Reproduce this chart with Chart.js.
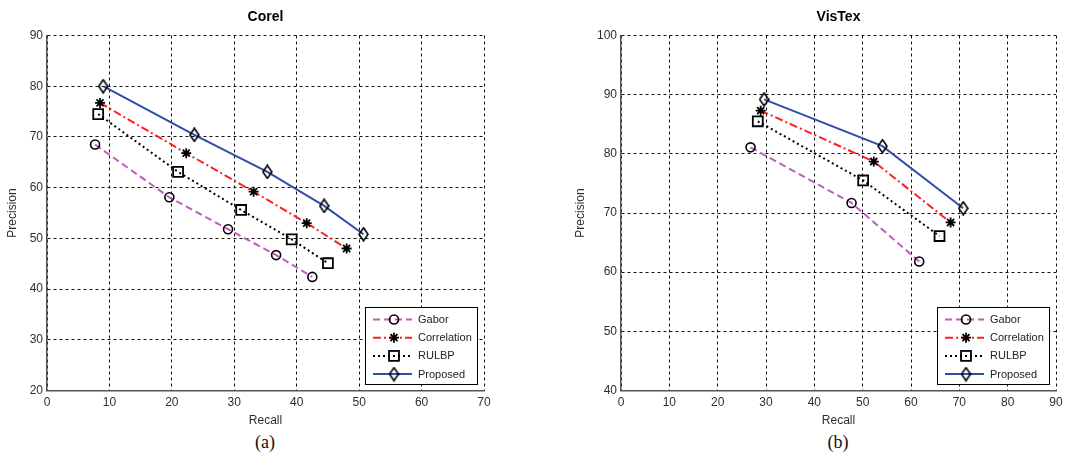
<!DOCTYPE html>
<html>
<head>
<meta charset="utf-8">
<script src="https://cdn.jsdelivr.net/npm/chart.js@4.4.1/dist/chart.umd.min.js"></script>
<style>
  html, body { margin: 0; padding: 0; background: #fff; overflow: hidden; }
  body { width: 1071px; height: 461px; position: relative; }
  .panel { position: absolute; top: 0; }
  .cap { position: absolute; top: 432px; width: 60px; text-align: center;
         font-family: "Liberation Serif", "DejaVu Serif", serif; font-size: 18px; color: #111; }
</style>
</head>
<body>
<div class="panel" style="left:0px"><canvas id="corelChart" width="531" height="430"></canvas></div>
<div class="panel" style="left:570px"><canvas id="vistexChart" width="501" height="430"></canvas></div>
<div class="cap" style="left:235px">(a)</div>
<div class="cap" style="left:808px">(b)</div>
<script>
// series names
const seriesNames = ['Gabor', 'Correlation', 'RULBP', 'Proposed'];

// Corel (recall, precision)
const corelGaborX = [7.7, 19.6, 29.0, 36.7, 42.5];
const corelGaborY = [68.5, 58.1, 51.8, 46.7, 42.4];
const corelCorrX = [8.5, 22.3, 33.1, 41.6, 48.0];
const corelCorrY = [76.7, 66.8, 59.2, 53.0, 48.0];
const corelRulbpX = [8.2, 21.0, 31.1, 39.2, 45.0];
const corelRulbpY = [74.5, 63.1, 55.6, 49.8, 45.1];
const corelPropX = [9.0, 23.6, 35.3, 44.4, 50.7];
const corelPropY = [80.0, 70.4, 63.1, 56.4, 50.8];

// VisTex (recall, precision)
const vistexGaborX = [26.8, 47.7, 61.7];
const vistexGaborY = [81.1, 71.7, 61.8];
const vistexCorrX = [28.9, 52.3, 68.2];
const vistexCorrY = [87.3, 78.7, 68.4];
const vistexRulbpX = [28.3, 50.1, 65.9];
const vistexRulbpY = [85.5, 75.5, 66.1];
const vistexPropX = [29.6, 54.1, 70.8];
const vistexPropY = [89.2, 81.3, 70.8];

// axis ranges
const corelXTicks = [0, 70];
const corelYTicks = [20, 90];
const vistexXTicks = [0, 90];
const vistexYTicks = [40, 100];

const FONT = '"Liberation Sans", Arial, sans-serif';

// narrow diamond marker like matlab 'd'
const diamond = document.createElement('canvas');
diamond.width = 11; diamond.height = 15;
(() => {
  const c = diamond.getContext('2d');
  c.strokeStyle = '#000';
  c.lineWidth = 1.6;
  c.beginPath();
  c.moveTo(5.5, 1); c.lineTo(10, 7.5); c.lineTo(5.5, 14); c.lineTo(1, 7.5); c.closePath();
  c.stroke();
})();

const styles = [
  {color: '#c25bc2', dash: [7, 4], width: 2, point: 'circle', radius: 4.5, pw: 1.6},
  {color: '#ff1f1f', dash: [8, 3, 2, 3], width: 2, point: 'star', radius: 5, pw: 1.8},
  {color: '#000000', dash: [2, 3], width: 2, point: 'rect', radius: 7, pw: 1.8},
  {color: '#2f4ea8', dash: [], width: 2, point: diamond, radius: 7, pw: 1.6}
];

function makeSets(xs, ys) {
  return xs.map((xArr, i) => ({
    label: seriesNames[i],
    data: xArr.map((x, j) => ({x: x, y: ys[i][j]})),
    showLine: true,
    borderColor: styles[i].color,
    borderDash: styles[i].dash,
    borderWidth: styles[i].width,
    pointStyle: styles[i].point,
    pointRadius: styles[i].radius,
    pointBorderColor: '#000',
    pointBackgroundColor: 'rgba(0,0,0,0)',
    pointBorderWidth: styles[i].pw,
    tension: 0
  }));
}

function drawMarker(ctx, ds, x, y) {
  const r = ds.pointRadius;
  ctx.save();
  ctx.strokeStyle = ds.pointBorderColor;
  ctx.lineWidth = ds.pointBorderWidth;
  ctx.setLineDash([]);
  if (ds.pointStyle === 'circle') {
    ctx.beginPath(); ctx.arc(x, y, r, 0, Math.PI * 2); ctx.stroke();
  } else if (ds.pointStyle === 'rect') {
    const s = Math.SQRT1_2 * r;
    ctx.strokeRect(x - s, y - s, 2 * s, 2 * s);
  } else if (ds.pointStyle === 'star') {
    const d = r * Math.SQRT1_2;
    ctx.beginPath();
    ctx.moveTo(x - r, y); ctx.lineTo(x + r, y);
    ctx.moveTo(x, y - r); ctx.lineTo(x, y + r);
    ctx.moveTo(x - d, y - d); ctx.lineTo(x + d, y + d);
    ctx.moveTo(x - d, y + d); ctx.lineTo(x + d, y - d);
    ctx.stroke();
  } else {
    ctx.drawImage(ds.pointStyle, x - ds.pointStyle.width / 2, y - ds.pointStyle.height / 2);
  }
  ctx.restore();
}

// legend box in the lower right corner of the plot, matlab style
const boxLegend = {
  id: 'boxLegend',
  afterDatasetsDraw(chart) {
    const {ctx, chartArea: a} = chart;
    const w = 112, h = 77;
    const x0 = Math.round(a.right - 7 - w), y0 = Math.round(a.bottom - 7 - h);
    ctx.save();
    ctx.fillStyle = '#fff';
    ctx.fillRect(x0, y0, w, h);
    ctx.strokeStyle = '#000';
    ctx.lineWidth = 1;
    ctx.strokeRect(x0 + 0.5, y0 + 0.5, w, h);
    chart.data.datasets.forEach((ds, i) => {
      const y = y0 + 12.5 + i * 18.2;
      ctx.save();
      ctx.strokeStyle = ds.borderColor;
      ctx.lineWidth = ds.borderWidth;
      ctx.setLineDash(ds.borderDash);
      ctx.beginPath(); ctx.moveTo(x0 + 8, y); ctx.lineTo(x0 + 47, y); ctx.stroke();
      ctx.restore();
      drawMarker(ctx, ds, x0 + 29, y);
      ctx.fillStyle = '#222';
      ctx.font = '11px ' + FONT;
      ctx.textBaseline = 'middle';
      ctx.fillText(ds.label, x0 + 53, y + 0.5);
    });
    ctx.restore();
  }
};

function makeChart(id, title, xs, ys, xr, yr, yWidth, precPad, padRight) {
  return new Chart(document.getElementById(id), {
    type: 'scatter',
    data: { datasets: makeSets(xs, ys) },
    options: {
      responsive: false,
      animation: false,
      devicePixelRatio: 1,
      layout: { padding: { left: 0, right: padRight, top: 0, bottom: 0 } },
      plugins: {
        legend: { display: false },
        tooltip: { enabled: false },
        title: {
          display: true, text: title, fullSize: false, color: '#000',
          font: { family: FONT, size: 14, weight: 'bold', lineHeight: 1.2 },
          padding: { top: 8.5, bottom: 10.2 }
        }
      },
      scales: {
        x: {
          type: 'linear', min: xr[0], max: xr[1],
          afterFit: s => { s.height = 39.5; },
          ticks: { stepSize: 10, padding: 5, color: '#2c2c38', font: { family: FONT, size: 12 } },
          grid: { color: '#111', lineWidth: 1, drawTicks: false },
          border: { color: '#555', width: 1.5, dash: [3, 3] },
          title: { display: true, text: 'Recall', color: '#2c2c38',
                   font: { family: FONT, size: 12 }, padding: { top: 0, bottom: 2 } }
        },
        y: {
          type: 'linear', min: yr[0], max: yr[1],
          afterFit: s => { s.width = yWidth; },
          ticks: { stepSize: 10, padding: 4, color: '#2c2c38', font: { family: FONT, size: 12 } },
          grid: { color: '#111', lineWidth: 1, drawTicks: false },
          border: { color: '#555', width: 1.5, dash: [3, 3] },
          title: { display: true, text: 'Precision', color: '#2c2c38',
                   font: { family: FONT, size: 12 }, padding: { top: precPad, bottom: 0 } }
        }
      }
    },
    plugins: [boxLegend]
  });
}

makeChart('corelChart', 'Corel',
  [corelGaborX, corelCorrX, corelRulbpX, corelPropX],
  [corelGaborY, corelCorrY, corelRulbpY, corelPropY],
  corelXTicks, corelYTicks, 47, 5, 47);

makeChart('vistexChart', 'VisTex',
  [vistexGaborX, vistexCorrX, vistexRulbpX, vistexPropX],
  [vistexGaborY, vistexCorrY, vistexRulbpY, vistexPropY],
  vistexXTicks, vistexYTicks, 51, 3, 15);
</script>
</body>
</html>
